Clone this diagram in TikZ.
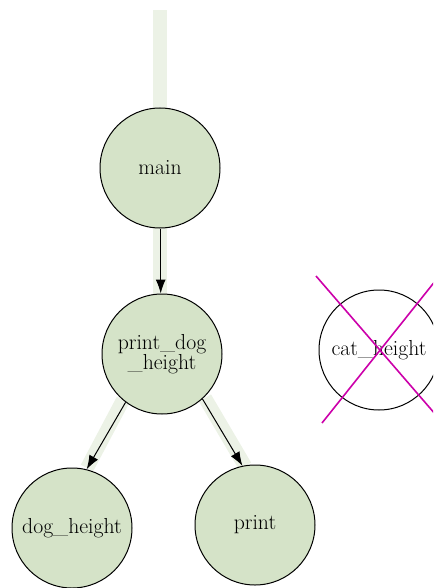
\documentclass[tikz,border=0pt]{standalone}
\usetikzlibrary{arrows.meta}
\definecolor{nodefill}{RGB}{213,227,200}
\definecolor{trail}{RGB}{236,242,230}
\definecolor{strike}{RGB}{204,0,170}
\tikzset{
  fn/.style={circle, draw=black, line width=1pt, minimum size=120pt, inner sep=0pt,
    font=\fontsize{21.7}{18.3}\selectfont, align=center, text=black},
  live/.style={fn, fill=nodefill},
  dead/.style={fn, fill=white},
  callarrow/.style={line width=1pt, -{Latex[length=14pt,width=10pt]}},
  trailband/.style={line width=14pt, draw=trail},
  crossout/.style={line width=1.6pt, draw=strike}
}
\begin{document}
\begin{tikzpicture}[x=1pt,y=-1pt]
  \useasboundingbox (0,0) rectangle (433,588);
  \clip (0,0) rectangle (433,588);

  % call trail behind the nodes
  \coordinate (entry) at (160,10);
  \coordinate (mainc) at (160,168);
  \draw[trailband] (entry) -- (mainc) -- (160,300);
  \draw[trailband] (123,400) -- (87,468);
  \draw[trailband] (205,398) -- (245,466);

  % functions
  \node[live] (main) at (160,168) {main};
  \node[live] (pdh) at (162,354) {print\_dog\\\_height};
  \node[live] (dog) at (72,528) {dog\_height};
  \node[live] (print) at (255,525) {print};
  \node[dead] (cat) at (379,350) {cat\_height};

  % calls
  \draw[callarrow] ([xshift=0.7pt]main.south) -- ([xshift=0.7pt]main.south |- pdh.north);
  \draw[callarrow] (pdh.233) -- (dog.76);
  \draw[callarrow] (pdh.312) -- (print.102);

  % unused function crossed out
  \coordinate (xa) at (316,276);
  \coordinate (xb) at (442,422);
  \coordinate (xc) at (322,423);
  \coordinate (xd) at (440,275);
  \draw[crossout] (xa) -- (xb);
  \draw[crossout] (xc) -- (xd);
\end{tikzpicture}
\end{document}
